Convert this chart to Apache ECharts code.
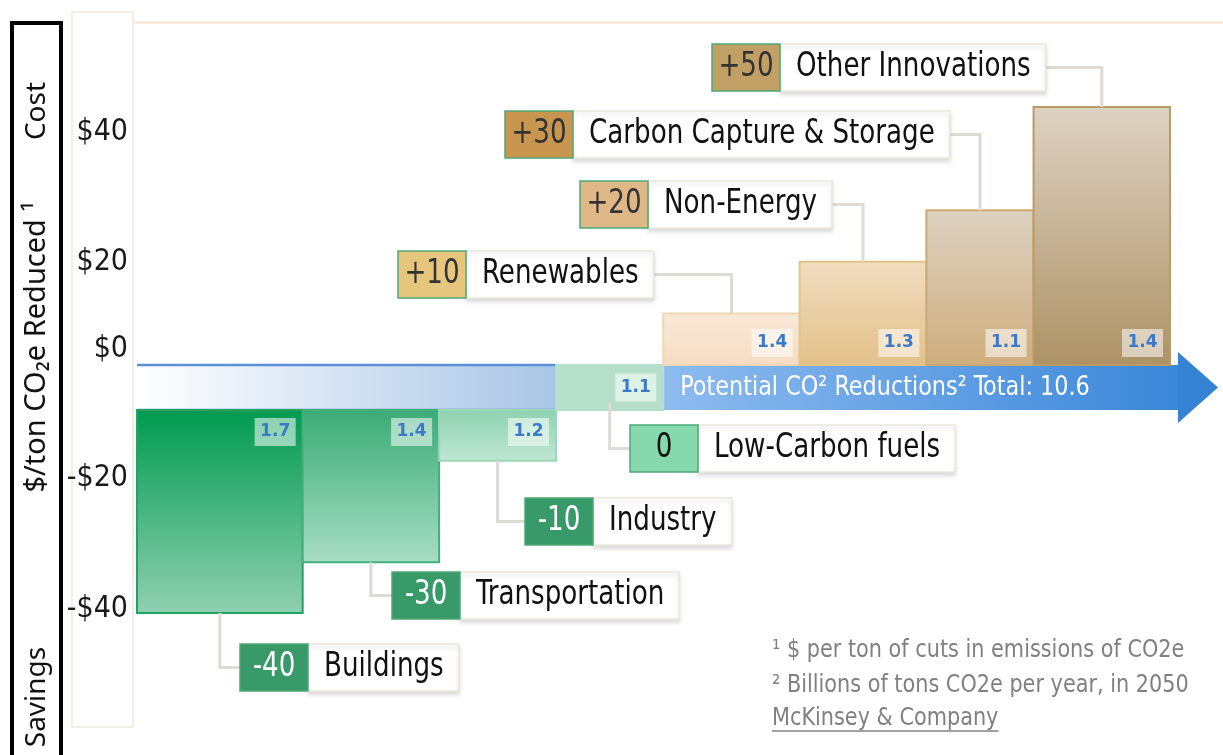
<!DOCTYPE html>
<html><head><meta charset="utf-8">
<script src="https://cdn.jsdelivr.net/npm/echarts@6/dist/echarts.min.js"></script>
<style>html,body{margin:0;padding:0;background:#fff}#chart{width:1223px;height:755px}</style>
</head><body><div id="chart"></div>
<script>
// ---------- data ----------
const categories = ['Buildings','Transportation','Industry','Low-Carbon fuels','Renewables','Non-Energy','Carbon Capture & Storage','Other Innovations'];
const costs = [-40,-30,-10,0,10,20,30,50];          // $ per ton CO2e
const volumes = [1.7,1.4,1.2,1.1,1.4,1.3,1.1,1.4];  // billions of tons CO2e / yr
const yTickValues = [40,20,0,-20,-40];
const yTickLabels = ['$40','$20','$0','-$20','-$40'];
const footnotes = ['¹ $ per ton of cuts in emissions of CO2e','² Billions of tons CO2e per year, in 2050','McKinsey & Company'];

// ---------- layout / style ----------
const NARROW = '"Liberation Sans Narrow","DejaVu Sans Condensed",sans-serif';
const LABEL_FONT = '34px ' + NARROW;
const LABEL_SX = 0.855;
const GAP = 45;
const yLabelNudge = [26,0,16,33,4];
const calloutPos = [[240,644],[392,572],[525,498],[630,425],[398,251],[580,181],[505,111],[712,44]];
const CALLOUT_H = 47, VALUE_W = 68;
const barStyle = [
  ['#009a50','#90d0b2','#23a262'],
  ['#3aac76','#a8ddc5','#43b07c'],
  ['#8dd2b0','#c0e7d4','#9ad8b9'],
  ['#b5dfca','#b5dfca','#b5dfca'],
  ['#f8e9d8','#f6dcc2','#f1d7b4'],
  ['#f0ddbf','#e3c08a','#e6c285'],
  ['#ddd1c1','#cfae7e','#cbaa72'],
  ['#ded2c3','#ad9265','#b99b66']
];
const valueFill = ['#379a68','#379a68','#379a68','#86d8ad','#e6c67c','#dfb887','#c8964f','#c1a065'];
const valueText = ['#fff','#fff','#fff','#111','#333','#333','#333','#333'];

const starts = []; let acc = 0;
volumes.forEach(v => { starts.push(acc); acc += v; });
const total = Math.round(acc * 10) / 10;
const zeroIdx = costs.indexOf(0);
const firstPos = costs.findIndex(c => c > 0);

const mctx = document.createElement('canvas').getContext('2d');
function textW(s, font) { mctx.font = font; return mctx.measureText(s).width; }

function vgrad(a, b) { return {type:'linear',x:0,y:0,x2:0,y2:1,colorStops:[{offset:0,color:a},{offset:1,color:b}]}; }
function hgrad(a, b) { return {type:'linear',x:0,y:0,x2:1,y2:0,colorStops:[{offset:0,color:a},{offset:1,color:b}]}; }

function widthTag(right, cy, txt) {
  return [
    {type:'rect', shape:{x:right-41, y:cy-14, width:41, height:28}, style:{fill:'rgba(255,255,255,0.55)'}},
    {type:'text', x:right-20.5, y:cy, style:{text:txt, fill:'#3b79c9', font:'bold 17px "DejaVu Sans", sans-serif', align:'center', verticalAlign:'middle'}}
  ];
}
function callout(i, anchor, above) {
  const L = calloutPos[i][0], T = calloutPos[i][1];
  const label = categories[i];
  const tw = textW(label, LABEL_FONT) * LABEL_SX + 31;
  const H = CALLOUT_H, midY = T + H / 2;
  const valStr = (costs[i] > 0 ? '+' : '') + costs[i];
  const pts = above
    ? [[L + VALUE_W + tw, midY], [anchor[0], midY], [anchor[0], anchor[1]]]
    : [[anchor[0], anchor[1]], [anchor[0], midY], [L, midY]];
  return [
    {type:'polyline', shape:{points:pts}, style:{stroke:'#dedbd3', lineWidth:3, fill:'none'}},
    {type:'rect', shape:{x:L + VALUE_W, y:T, width:tw, height:H}, style:{fill:'#fff', stroke:'#ebe7dc', lineWidth:1.5, shadowBlur:4, shadowOffsetY:3, shadowColor:'rgba(0,0,0,0.13)'}},
    {type:'rect', shape:{x:L, y:T, width:VALUE_W, height:H}, style:{fill:valueFill[i], stroke:'#4fa877', lineWidth:1.5}},
    {type:'text', x:L + VALUE_W / 2, y:midY, scaleX:LABEL_SX, style:{text:valStr, font:LABEL_FONT, fill:valueText[i], align:'center', verticalAlign:'middle'}},
    {type:'text', x:L + VALUE_W + 16, y:midY, scaleX:LABEL_SX, style:{text:label, font:LABEL_FONT, fill:'#111', align:'left', verticalAlign:'middle'}}
  ];
}

function renderPos(params, api) {
  const i = api.value(3);
  const a = api.coord([api.value(0), 0]);
  const b = api.coord([api.value(1), api.value(2)]);
  const x = a[0], w = b[0] - a[0], yTop = b[1], yBase = a[1];
  const s = barStyle[i];
  return {type:'group', children: [
    {type:'rect', shape:{x:x, y:yTop, width:w, height:yBase - yTop}, style:{fill:vgrad(s[0], s[1]), stroke:s[2], lineWidth:2}},
    ...widthTag(x + w - 7, yBase - 22, volumes[i].toFixed(1)),
    ...callout(i, [x + w / 2, yTop], true)
  ]};
}
function renderNeg(params, api) {
  const i = api.value(3);
  const a = api.coord([api.value(0), 0]);
  const b = api.coord([api.value(1), api.value(2)]);
  const x = a[0], w = b[0] - a[0], y0 = a[1];
  const s = barStyle[i];
  let rect, tagY, anchorY;
  if (api.value(2) === 0) {
    rect = {x:x, y:y0 - GAP, width:w, height:GAP};
    tagY = y0 - GAP / 2; anchorY = y0 - 8;
  } else {
    rect = {x:x, y:y0, width:w, height:b[1] - y0};
    tagY = y0 + 22; anchorY = b[1];
  }
  return {type:'group', children: [
    {type:'rect', shape:rect, style:{fill:vgrad(s[0], s[1]), stroke:s[2], lineWidth:2}},
    ...widthTag(x + w - 7, tagY, volumes[i].toFixed(1)),
    ...callout(i, [x + w / 2, anchorY], false)
  ]};
}
function renderBand(params, api) {
  const p0 = api.coord([0, 0]);
  const x0 = p0[0], yB = p0[1], yT = yB - GAP;
  const xNegEnd = api.coord([starts[zeroIdx], 0])[0];
  const xPos = api.coord([starts[firstPos], 0])[0];
  const xEnd = api.coord([total, 0])[0];
  const midY = (yT + yB) / 2;
  return {type:'group', children: [
    {type:'rect', shape:{x:x0, y:yT, width:xNegEnd - x0, height:GAP}, style:{fill:hgrad('#ffffff', '#a9c5e6')}},
    {type:'line', shape:{x1:x0, y1:yT, x2:xNegEnd, y2:yT}, style:{stroke:'#5b8fd8', lineWidth:2.5}},
    {type:'line', shape:{x1:x0, y1:yB, x2:xNegEnd, y2:yB}, style:{stroke:'#5b8fd8', lineWidth:2.5}},
    {type:'rect', shape:{x:xPos, y:yT, width:xEnd + 10 - xPos, height:GAP}, style:{fill:hgrad('#8dbbef', '#3b87d9')}},
    {type:'polygon', shape:{points:[[xEnd + 8, yT - 13], [xEnd + 48, midY], [xEnd + 8, yB + 13]]}, style:{fill:'#3683d3'}},
    {type:'text', x:xPos + 17, y:midY, scaleX:0.92, style:{text:'Potential CO² Reductions² Total: ' + total.toFixed(1), font:'27px ' + NARROW, fill:'#fff', align:'left', verticalAlign:'middle'}}
  ]};
}

const posData = [], negData = [];
costs.forEach((c, i) => {
  const item = [starts[i], starts[i] + volumes[i], c, i];
  (c > 0 ? posData : negData).push(item);
});

const rich = {};
yLabelNudge.forEach((n, k) => { rich['t' + k] = {fontSize:30, fontFamily:NARROW, color:'#1a1a1a', padding:[0, 0, 2 * n, 0]}; });
const yLabel = {
  margin: 9, fontSize: 30, fontFamily: NARROW, color:'#1a1a1a', rich: rich,
  formatter: v => { const k = yTickValues.indexOf(v); return k < 0 ? '' : '{t' + k + '|' + yTickLabels[k] + '}'; }
};

const FN_FONT = '25px ' + NARROW, FN_SX = 0.925;
const ulW = textW(footnotes[2], FN_FONT) * FN_SX;
const chart = echarts.init(document.getElementById('chart'), null, {renderer:'canvas'});
chart.setOption({
  backgroundColor:'#fff',
  animation:false,
  grid:[
    {left:137, width:1033, top:22, height:343},
    {left:137, width:1033, top:410, height:340}
  ],
  xAxis:[
    {gridIndex:0, type:'value', min:0, max:total, show:false},
    {gridIndex:1, type:'value', min:0, max:total, show:false}
  ],
  yAxis:[
    {gridIndex:0, type:'value', min:0, max:66.5, axisLine:{show:false}, axisTick:{show:false}, splitLine:{show:false},
      axisLabel:Object.assign({customValues:yTickValues.filter(v => v >= 0)}, yLabel)},
    {gridIndex:1, type:'value', min:-67, max:0, axisLine:{show:false}, axisTick:{show:false}, splitLine:{show:false},
      axisLabel:Object.assign({customValues:yTickValues.filter(v => v < 0)}, yLabel)}
  ],
  graphic:[
    {type:'rect', z:-10, shape:{x:72, y:12, width:61, height:715}, style:{fill:'#fff', stroke:'#eeeadc', lineWidth:1.5}},
    {type:'line', z:-10, shape:{x1:134, y1:22.5, x2:1223, y2:22.5}, style:{stroke:'#fbe4cf', lineWidth:2}},
    {type:'rect', shape:{x:12, y:23, width:49, height:760}, style:{fill:'none', stroke:'#000', lineWidth:4}},
    {type:'text', x:37, y:111, rotation:Math.PI / 2, style:{text:'Cost', font:'28px "Noto Sans", sans-serif', fill:'#111', align:'center', verticalAlign:'middle'}},
    {type:'text', x:37, y:347, rotation:Math.PI / 2, style:{text:'$/ton CO₂e Reduced ¹', font:'29px "Noto Sans", sans-serif', fill:'#111', align:'center', verticalAlign:'middle'}},
    {type:'text', x:37, y:697, rotation:Math.PI / 2, style:{text:'Savings', font:'28px "Noto Sans", sans-serif', fill:'#111', align:'center', verticalAlign:'middle'}},
    {type:'text', x:772, y:650, scaleX:FN_SX, style:{text:footnotes[0], font:FN_FONT, fill:'#808080', verticalAlign:'middle'}},
    {type:'text', x:772, y:685, scaleX:FN_SX, style:{text:footnotes[1], font:FN_FONT, fill:'#808080', verticalAlign:'middle'}},
    {type:'text', x:772, y:718, scaleX:FN_SX, style:{text:footnotes[2], font:FN_FONT, fill:'#808080', verticalAlign:'middle'}},
    {type:'line', shape:{x1:772, y1:731, x2:772 + ulW, y2:731}, style:{stroke:'#808080', lineWidth:1.5}}
  ],
  series:[
    {type:'custom', name:'band', xAxisIndex:1, yAxisIndex:1, z:1, clip:false, silent:true, data:[[0, total]], renderItem:renderBand},
    {type:'custom', name:'savings', xAxisIndex:1, yAxisIndex:1, z:3, clip:false, silent:true, data:negData, renderItem:renderNeg},
    {type:'custom', name:'costs', xAxisIndex:0, yAxisIndex:0, z:3, clip:false, silent:true, data:posData, renderItem:renderPos}
  ]
});
</script></body></html>
